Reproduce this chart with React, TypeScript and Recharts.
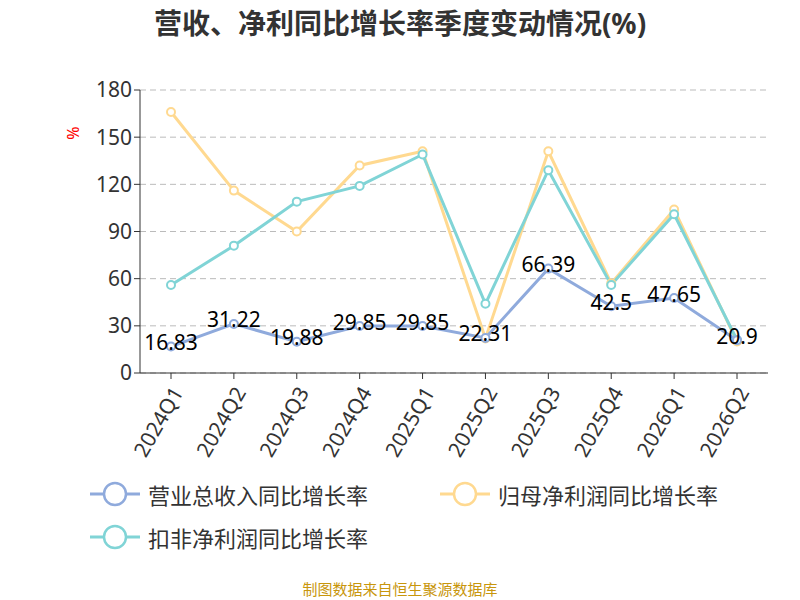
import { LineChart, Line, XAxis, YAxis, CartesianGrid, LabelList } from 'recharts';

const quarters = ['2024Q1', '2024Q2', '2024Q3', '2024Q4', '2025Q1', '2025Q2', '2025Q3', '2025Q4', '2026Q1', '2026Q2'];
const revenueGrowth = [16.83, 31.22, 19.88, 29.85, 29.85, 22.31, 66.39, 42.5, 47.65, 20.9];
const netProfitGrowth = [166, 116, 90, 132, 141, 22, 141, 57, 104, 20];
const deductedGrowth = [56, 81, 109, 119, 139, 44, 129, 56, 101, 21];
const yTicks = [0, 30, 60, 90, 120, 150, 180];

const C_REV = '#8FAADC';
const C_NET = '#FFD990';
const C_DED = '#80D4D6';
const FONT = '"Noto Sans", "Noto Sans CJK SC", sans-serif';

const data = quarters.map((q, i) => ({
  q,
  rev: revenueGrowth[i],
  net: netProfitGrowth[i],
  ded: deductedGrowth[i],
}));

function LegendItem({ color, label, x, y }: { color: string; label: string; x: number; y: number }) {
  return (
    <div style={{ position: 'absolute', left: x, top: y, display: 'flex', alignItems: 'center', fontFamily: FONT, fontSize: 22, color: '#333' }}>
      <svg width={50} height={30} style={{ marginRight: 8 }}>
        <line x1={0} y1={15} x2={50} y2={15} stroke={color} strokeWidth={3} />
        <circle cx={25} cy={15} r={11} fill="#fff" stroke={color} strokeWidth={2.5} />
      </svg>
      {label}
    </div>
  );
}

export default function App() {
  return (
    <div style={{ position: 'absolute', left: 0, top: 0, width: 800, height: 600, background: '#fff', fontFamily: FONT }}>
      <div style={{ position: 'absolute', top: 2, width: 800, textAlign: 'center', fontSize: 28, fontWeight: 'bold', color: '#333' }}>
        营收、净利同比增长率季度变动情况(%)
      </div>
      <div style={{ position: 'absolute', left: 66, top: 122, color: 'red', fontSize: 16, transform: 'rotate(-90deg)' }}>%</div>
      <div style={{ position: 'absolute', top: 0, left: 0 }}>
        <LineChart width={800} height={480} data={data} margin={{ top: 90, right: 32, left: 0, bottom: 0 }}>
          <CartesianGrid horizontal vertical={false} stroke="#bbb" strokeDasharray="6 4" />
          <XAxis
            dataKey="q"
            interval={0}
            height={107}
            padding={{ left: 31, right: 31 }}
            tick={{ fontSize: 21, fill: '#333', angle: -60, textAnchor: 'end', dy: 4 }}
            tickLine={{ stroke: '#333' }}
            axisLine={{ stroke: '#333' }}
          />
          <YAxis
            domain={[0, 180]}
            ticks={yTicks}
            width={140}
            tick={{ fontSize: 21, fill: '#333' }}
            tickLine={{ stroke: '#333' }}
            axisLine={{ stroke: '#333' }}
          />
          <Line dataKey="net" stroke={C_NET} strokeWidth={3} dot={{ r: 4, fill: '#fff', stroke: C_NET, strokeWidth: 2 }} isAnimationActive={false} />
          <Line dataKey="ded" stroke={C_DED} strokeWidth={3} dot={{ r: 4, fill: '#fff', stroke: C_DED, strokeWidth: 2 }} isAnimationActive={false} />
          <Line dataKey="rev" stroke={C_REV} strokeWidth={3} dot={{ r: 4, fill: '#fff', stroke: C_REV, strokeWidth: 2 }} isAnimationActive={false}>
            <LabelList dataKey="rev" position="center" fontSize={21} fill="#000" dy={-4} />
          </Line>
        </LineChart>
      </div>
      <LegendItem color={C_REV} label="营业总收入同比增长率" x={90} y={478} />
      <LegendItem color={C_NET} label="归母净利润同比增长率" x={440} y={478} />
      <LegendItem color={C_DED} label="扣非净利润同比增长率" x={90} y={521} />
      <div style={{ position: 'absolute', top: 578, width: 800, textAlign: 'center', fontSize: 15, color: '#C8960C' }}>
        制图数据来自恒生聚源数据库
      </div>
    </div>
  );
}
